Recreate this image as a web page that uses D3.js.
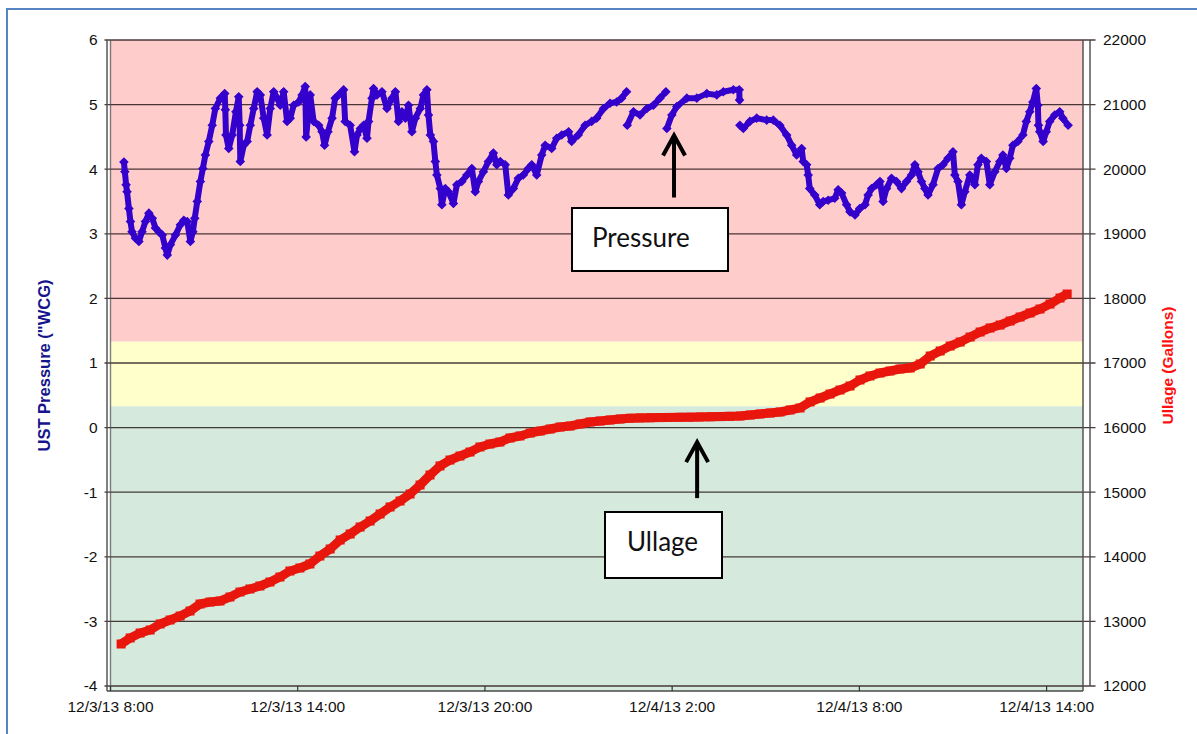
<!DOCTYPE html>
<html>
<head>
<meta charset="utf-8">
<script src="https://cdn.jsdelivr.net/npm/d3@7"></script>
<style>
  html, body { margin: 0; padding: 0; background: #fff; }
  svg { display: block; }
</style>
</head>
<body>
<div id="chart"></div>
<script>
// ---------------- DATA ----------------
const startTime = new Date(2013, 11, 3, 8, 0);            // 12/3/13 8:00
const xDomain = [new Date(2013, 11, 3, 8, 0), new Date(2013, 11, 4, 15, 10)];
const xTickDates = [
  new Date(2013, 11, 3, 8, 0), new Date(2013, 11, 3, 14, 0), new Date(2013, 11, 3, 20, 0),
  new Date(2013, 11, 4, 2, 0), new Date(2013, 11, 4, 8, 0), new Date(2013, 11, 4, 14, 0)
];
const xTickLabels = ["12/3/13 8:00", "12/3/13 14:00", "12/3/13 20:00", "12/4/13 2:00", "12/4/13 8:00", "12/4/13 14:00"];

const pressureTicks = [-4, -3, -2, -1, 0, 1, 2, 3, 4, 5, 6];
const ullageTicks = [12000, 13000, 14000, 15000, 16000, 17000, 18000, 19000, 20000, 21000, 22000];

// pressure zones (UST pressure, "WCG): upper limits of each band
const zoneLimits = [6, 1.33, 0.33, -4];
const zoneColors = ["#ffcccc", "#ffffcc", "#d5eadd"];

// [hours after 12/3/13 8:00, UST pressure "WCG] (null = gap in logging)
const pressureReadings = [
[0.43,4.11],[0.46,3.96],[0.50,3.76],[0.53,3.65],[0.59,3.39],[0.64,3.19],[0.69,3.03],[0.80,2.93],[0.91,2.88],[1.01,3.03],
[1.12,3.19],[1.23,3.32],[1.34,3.24],[1.44,3.09],[1.55,3.03],[1.66,2.98],[1.76,2.78],[1.82,2.67],[1.92,2.83],[2.08,2.98],
[2.24,3.14],[2.35,3.21],[2.46,3.19],[2.56,2.88],[2.64,3.03],[2.70,3.24],[2.78,3.50],[2.88,3.81],[2.96,4.01],[3.04,4.22],
[3.15,4.43],[3.26,4.68],[3.36,4.94],[3.52,5.10],[3.66,5.17],[3.68,4.92],[3.70,4.53],[3.79,4.32],[3.90,4.53],[4.02,4.89],
[4.11,5.12],[4.14,4.68],[4.16,4.12],[4.27,4.37],[4.38,4.43],[4.48,4.68],[4.59,4.94],[4.70,5.20],[4.80,5.15],[4.91,4.79],
[5.02,4.53],[5.12,4.94],[5.23,5.20],[5.34,5.10],[5.44,4.99],[5.55,5.20],[5.66,4.74],[5.76,4.79],[5.87,4.99],[6.03,5.04],
[6.14,5.15],[6.24,5.28],[6.27,4.50],[6.40,5.15],[6.51,4.74],[6.67,4.68],[6.78,4.58],[6.86,4.37],[6.97,4.58],[7.10,4.79],
[7.20,5.10],[7.31,5.15],[7.47,5.23],[7.52,4.74],[7.68,4.68],[7.82,4.27],[7.90,4.53],[8.01,4.63],[8.11,4.68],[8.22,4.48],
[8.27,4.74],[8.38,5.10],[8.43,5.25],[8.54,5.15],[8.70,5.20],[8.86,4.94],[9.02,5.10],[9.13,5.20],[9.23,4.74],[9.34,4.89],
[9.45,4.79],[9.55,4.99],[9.66,4.58],[9.77,4.79],[9.93,4.94],[10.03,5.15],[10.14,5.23],[10.19,4.84],[10.25,4.53],[10.35,4.43],
[10.41,4.12],[10.46,3.91],[10.57,3.70],[10.62,3.45],[10.73,3.70],[10.83,3.65],[10.99,3.47],[11.10,3.76],[11.26,3.81],[11.42,3.91],
[11.58,4.01],[11.69,3.65],[11.79,3.81],[11.95,3.96],[12.11,4.12],[12.27,4.25],[12.38,4.07],[12.49,4.12],[12.65,4.07],[12.75,3.60],
[12.91,3.70],[13.07,3.86],[13.23,3.91],[13.39,4.01],[13.50,4.07],[13.66,3.91],[13.82,4.22],[13.93,4.37],[14.14,4.32],[14.30,4.48],
[14.46,4.53],[14.68,4.58],[14.78,4.43],[14.99,4.53],[15.21,4.68],[15.42,4.74],[15.58,4.79],[15.80,4.94],[16.01,5.02],[16.22,5.04],
[16.38,5.10],[16.54,5.20],[16.55,null],
[16.56,4.68],[16.76,4.89],[16.97,4.84],[17.19,4.94],[17.40,4.99],[17.61,5.10],[17.80,5.20],[17.81,null],
[17.83,4.63],[17.99,4.84],[18.15,4.97],[18.47,5.10],[18.79,5.10],[19.11,5.17],[19.43,5.15],[19.64,5.20],[19.96,5.23],[20.15,5.23],
[20.16,5.07],[20.165,null],
[20.17,4.68],[20.28,4.63],[20.49,4.74],[20.71,4.79],[21.03,4.76],[21.24,4.76],[21.45,4.68],[21.67,4.53],[21.83,4.37],[21.99,4.22],
[22.15,4.32],[22.20,4.12],[22.31,4.07],[22.36,3.91],[22.41,3.70],[22.57,3.60],[22.73,3.45],[22.84,3.50],[23.00,3.52],[23.21,3.55],
[23.32,3.68],[23.43,3.63],[23.59,3.45],[23.70,3.34],[23.86,3.29],[24.01,3.39],[24.18,3.45],[24.28,3.60],[24.39,3.70],[24.55,3.76],
[24.66,3.81],[24.76,3.50],[24.87,3.70],[25.03,3.86],[25.19,3.81],[25.35,3.70],[25.51,3.81],[25.67,3.91],[25.78,4.07],[25.88,3.96],
[25.99,3.81],[26.10,3.70],[26.20,3.60],[26.36,3.76],[26.52,4.01],[26.68,4.07],[26.84,4.17],[27.00,4.27],[27.06,3.91],[27.16,3.81],
[27.27,3.45],[27.38,3.65],[27.54,3.91],[27.70,3.76],[27.80,4.07],[27.91,4.17],[28.07,4.12],[28.18,3.76],[28.34,3.96],[28.50,4.12],
[28.60,4.22],[28.71,4.01],[28.82,4.17],[28.92,4.37],[29.08,4.43],[29.24,4.53],[29.35,4.74],[29.46,4.89],[29.56,5.04],[29.67,5.25],
[29.72,4.99],[29.74,4.68],[29.78,4.58],[29.89,4.43],[29.99,4.58],[30.10,4.74],[30.26,4.84],[30.42,4.89],[30.52,4.79],[30.69,4.68]
];

// [hours after 12/3/13 8:00, ullage gallons]
const ullageReadings = [
[0.34,12650],[0.63,12743],[0.95,12820],[1.27,12867],[1.59,12960],[1.91,13022],[2.23,13083],[2.55,13161],[2.87,13269],[3.19,13300],
[3.51,13316],[3.83,13378],[4.15,13455],[4.47,13502],[4.79,13548],[5.11,13610],[5.43,13687],[5.75,13780],[6.07,13827],[6.39,13889],
[6.71,14012],[7.04,14121],[7.36,14260],[7.68,14353],[8.00,14461],[8.32,14554],[8.64,14663],[8.96,14771],[9.28,14864],[9.60,14972],
[9.92,15111],[10.24,15266],[10.56,15406],[10.88,15498],[11.20,15560],[11.52,15622],[11.84,15700],[12.16,15746],[12.48,15777],[12.80,15839],
[13.12,15870],[13.45,15916],[13.77,15947],[14.09,15978],[14.41,16009],[14.73,16025],[15.05,16056],[15.37,16087],[15.69,16102],[16.01,16118],
[16.33,16133],[16.65,16145],[16.97,16150],[17.29,16152],[17.61,16155],[17.93,16158],[18.25,16160],[18.57,16162],[18.89,16165],[19.22,16167],
[19.54,16170],[19.86,16174],[20.18,16180],[20.50,16195],[20.82,16211],[21.14,16226],[21.46,16242],[21.78,16273],[22.10,16304],[22.42,16397],
[22.74,16458],[23.06,16520],[23.38,16582],[23.70,16644],[24.02,16737],[24.34,16799],[24.66,16845],[24.98,16876],[25.30,16907],[25.63,16923],
[25.95,16985],[26.27,17108],[26.59,17186],[26.91,17263],[27.23,17325],[27.55,17402],[27.87,17480],[28.19,17542],[28.51,17588],[28.83,17650],
[29.15,17712],[29.47,17774],[29.79,17836],[30.11,17913],[30.43,18006],[30.66,18068]
];

const leftTitle = "UST Pressure (\"WCG)";
const rightTitle = "Ullage (Gallons)";
const notePressure = "Pressure";
const noteUllage = "Ullage";

// ---------------- LAYOUT ----------------
const W = 1197, H = 734;
const plot = { left: 110.5, right: 1083, top: 40, bottom: 691 };
const axisLeftX = 107, axisRightX = 1090;
const FONT = "'Liberation Sans', Arial, sans-serif";

const svg = d3.select("#chart").append("svg").attr("width", W).attr("height", H);

const toDate = h => new Date(+startTime + h * 3600e3);
const x = d3.scaleTime().domain(xDomain).range([plot.left, plot.right]);
const yL = d3.scaleLinear().domain([-4, 6]).range([686, 40]);
const yR = d3.scaleLinear().domain([12000, 22000]).range([686, 40]);

// outer chart border
svg.append("rect").attr("x", 7).attr("y", 9).attr("width", W + 10).attr("height", H + 10)
  .attr("fill", "none").attr("stroke", "#5585c4").attr("stroke-width", 2);

// zone bands
zoneColors.forEach((c, i) => {
  const top = yL(zoneLimits[i]);
  const bot = i === zoneColors.length - 1 ? plot.bottom : yL(zoneLimits[i + 1]);
  svg.append("rect").attr("x", plot.left).attr("y", top)
    .attr("width", plot.right - plot.left).attr("height", bot - top).attr("fill", c);
});

// gridlines + tick marks (both value axes share positions)
pressureTicks.forEach(v => {
  svg.append("line").attr("x1", axisLeftX - 2.5).attr("x2", axisRightX + 5.5)
    .attr("y1", yL(v)).attr("y2", yL(v))
    .attr("stroke", "#2a1a1a").attr("stroke-opacity", 0.85).attr("stroke-width", 1.3);
});

// frame lines
const frame = svg.append("g").attr("stroke", "#4a4a4a").attr("stroke-width", 1.4).attr("fill", "none");
frame.append("line").attr("x1", axisLeftX).attr("x2", axisLeftX).attr("y1", plot.top).attr("y2", plot.bottom);
frame.append("line").attr("x1", plot.left).attr("x2", plot.left).attr("y1", plot.top).attr("y2", plot.bottom).attr("stroke-opacity", 0.7);
frame.append("line").attr("x1", plot.right).attr("x2", plot.right).attr("y1", plot.top).attr("y2", plot.bottom);
frame.append("line").attr("x1", axisRightX).attr("x2", axisRightX).attr("y1", plot.top).attr("y2", yL(-4));
frame.append("line").attr("x1", axisLeftX).attr("x2", plot.right).attr("y1", plot.bottom).attr("y2", plot.bottom);

// x axis ticks and labels
xTickDates.forEach((d, i) => {
  svg.append("line").attr("x1", x(d)).attr("x2", x(d)).attr("y1", yL(-4)).attr("y2", plot.bottom)
    .attr("stroke", "#333").attr("stroke-width", 1.2);
  svg.append("text").attr("x", x(d)).attr("y", 712).attr("text-anchor", "middle")
    .attr("font-family", FONT).attr("font-size", 15.5).attr("fill", "#111").text(xTickLabels[i]);
});

// left axis labels
svg.append("g").selectAll("text").data(pressureTicks).join("text")
  .attr("x", 97.5).attr("y", d => yL(d)).attr("dy", "0.35em").attr("text-anchor", "end")
  .attr("font-family", FONT).attr("font-size", 15.5).attr("fill", "#111").text(d => d);

// right axis labels
svg.append("g").selectAll("text").data(ullageTicks).join("text")
  .attr("x", 1103).attr("y", d => yR(d)).attr("dy", "0.35em").attr("text-anchor", "start")
  .attr("font-family", FONT).attr("font-size", 15.5).attr("fill", "#111").text(d => d);

// axis titles
svg.append("text").attr("transform", `translate(50,${(plot.top + plot.bottom) / 2}) rotate(-90)`)
  .attr("text-anchor", "middle").attr("font-family", FONT).attr("font-size", 16.5)
  .attr("font-weight", "bold").attr("fill", "#14148c").text(leftTitle);
svg.append("text").attr("transform", `translate(1172.5,${(plot.top + plot.bottom) / 2}) rotate(-90)`)
  .attr("text-anchor", "middle").attr("font-family", FONT).attr("font-size", 15.5)
  .attr("font-weight", "bold").attr("fill", "#ff1010").text(rightTitle);

// ullage series (red squares)
const RED = "#e8160c";
const ullPts = ullageReadings.map(([h, v]) => ({ t: toDate(h), v }));
const ullLine = d3.line().x(d => x(d.t)).y(d => yR(d.v));
svg.append("path").datum(ullPts).attr("d", ullLine).attr("fill", "none")
  .attr("stroke", RED).attr("stroke-width", 9).attr("stroke-linejoin", "round");
svg.append("g").selectAll("rect").data(ullPts).join("rect")
  .attr("x", d => x(d.t) - 4.5).attr("y", d => yR(d.v) - 4.5).attr("width", 9).attr("height", 9)
  .attr("fill", RED);

// pressure series (blue diamonds)
const presPts = pressureReadings.map(([h, v]) => ({ t: toDate(h), v }));
const presLine = d3.line().defined(d => d.v !== null).x(d => x(d.t)).y(d => yL(d.v));
const BLUE = "#3300cc";
svg.append("path").datum(presPts).attr("d", presLine).attr("fill", "none")
  .attr("stroke", BLUE).attr("stroke-width", 6).attr("stroke-linejoin", "round").attr("stroke-linecap", "round");
const dia = 4.8;
svg.append("g").selectAll("path").data(presPts.filter(d => d.v !== null)).join("path")
  .attr("d", d => {
    const cx = x(d.t), cy = yL(d.v);
    return `M${cx},${cy - dia}L${cx + dia},${cy}L${cx},${cy + dia}L${cx - dia},${cy}Z`;
  })
  .attr("fill", BLUE);

// annotations
function annotate(label, anchorTime, tipY, shaftLen, box) {
  const ax = x(anchorTime);
  const g = svg.append("g");
  g.append("line").attr("x1", ax).attr("x2", ax).attr("y1", tipY + 2).attr("y2", tipY + shaftLen)
    .attr("stroke", "#000").attr("stroke-width", 4);
  g.append("path").attr("d", `M${ax - 11},${tipY + 22}L${ax},${tipY + 2}L${ax + 11},${tipY + 22}`)
    .attr("fill", "none").attr("stroke", "#000").attr("stroke-width", 4)
    .attr("stroke-linejoin", "miter");
  g.append("rect").attr("x", box.x).attr("y", box.y).attr("width", box.w).attr("height", box.h)
    .attr("fill", "#fff").attr("stroke", "#000").attr("stroke-width", 2);
  g.append("text").attr("x", box.tx).attr("y", box.ty)
    .attr("font-family", "Lato, 'Open Sans', sans-serif").attr("font-size", 26).attr("fill", "#111")
    .text(label);
}
// Pressure arrow points at the start of the 12/4 ~2:00 segment
annotate(notePressure, toDate(18.06), yL(4.63) + 5, 64,
  { x: 572, y: 208, w: 156, h: 63, tx: 592, ty: 247 });
// Ullage arrow points up at the flat ullage stretch
annotate(noteUllage, toDate(18.8), yR(16162) + 23, 58,
  { x: 605, y: 512, w: 117, h: 66, tx: 627, ty: 551 });
</script>
</body>
</html>
